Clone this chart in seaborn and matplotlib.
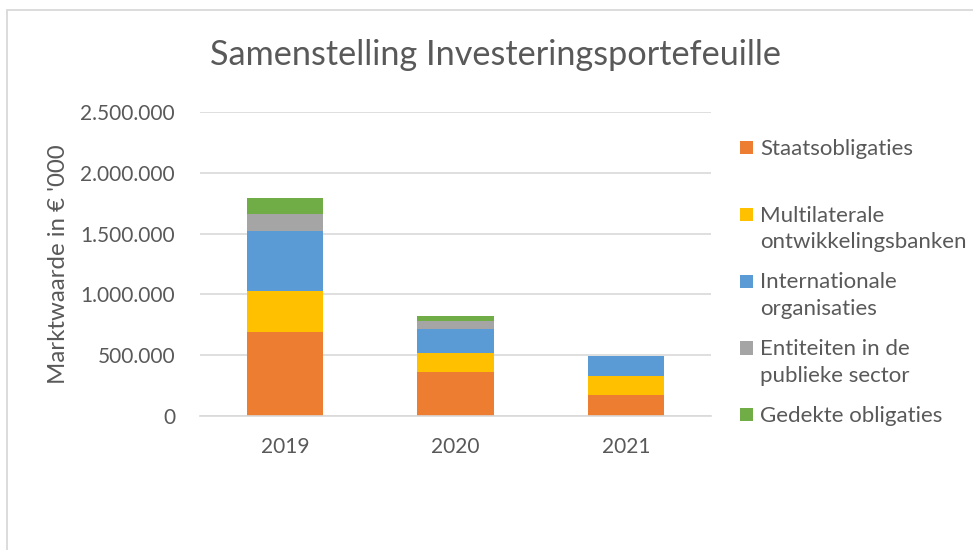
import numpy as np
import pandas as pd
import seaborn as sns
import matplotlib
matplotlib.use("Agg")
import matplotlib.pyplot as plt
from matplotlib.patches import Rectangle, Patch
from matplotlib.legend_handler import HandlerPatch
from matplotlib.ticker import FuncFormatter, MultipleLocator

# ---- data (values in € '000) ----
years = ["2019", "2020", "2021"]
staatsobligaties = [691000, 363000, 178000]
multilaterale = [334000, 159000, 155000]
internationale = [497000, 191000, 159000]
entiteiten = [136000, 71000, 0]
gedekte = [134000, 41000, 0]

series_labels = [
    "Staatsobligaties",
    "Multilaterale\nontwikkelingsbanken",
    "Internationale\norganisaties",
    "Entiteiten in de\npublieke sector",
    "Gedekte obligaties",
]
series_values = [staatsobligaties, multilaterale, internationale, entiteiten, gedekte]
series_colors = ["#ED7D31", "#FFC000", "#5B9BD5", "#A5A5A5", "#70AD47"]
title = "Samenstelling Investeringsportefeuille"
ylabel = "Marktwaarde in € '000"

TEXT = "#595959"
GRID = "#D9D9D9"

sns.set_theme(style="white")
plt.rcParams["font.family"] = ["Lato", "DejaVu Sans"]

W, H = 973, 550
fig = plt.figure(figsize=(W / 100, H / 100), dpi=100)
ax = fig.add_axes([200 / W, 1 - 416.3 / H, 511 / W, 304.6 / H])

# cumulative stacks, drawn top-down so lower segments overlay
cum = np.cumsum(np.array(series_values), axis=0)
for i in range(len(series_values) - 1, -1, -1):
    df = pd.DataFrame({"year": years, "value": cum[i]})
    sns.barplot(data=df, x="year", y="value", color=series_colors[i],
                saturation=1, width=0.45, linewidth=0, errorbar=None, ax=ax)

ax.set_xlim(-0.5, 2.5)
ax.set_ylim(0, 2500000)
ax.yaxis.set_major_locator(MultipleLocator(500000))
ax.yaxis.set_major_formatter(FuncFormatter(lambda v, p: f"{int(round(v)):,}".replace(",", ".")))
ax.grid(axis="y", color=GRID, linewidth=1.2)
ax.set_axisbelow(True)
for s in ["top", "right", "left"]:
    ax.spines[s].set_visible(False)
ax.spines["bottom"].set_color(GRID)
ax.spines["bottom"].set_linewidth(1.2)
ax.tick_params(axis="y", length=0, pad=18, labelsize=15, labelcolor=TEXT)
ax.tick_params(axis="x", length=0, pad=15, labelsize=15, labelcolor=TEXT)
ax.set_xlabel("")
ax.set_ylabel(ylabel, fontsize=17.3, color=TEXT)
ax.yaxis.label.set_va("center")
ax.yaxis.set_label_coords((58 - 200) / 511, 0.5)

fig.text(495 / W, 1 - 65 / H, title, ha="center", va="baseline",
         fontsize=24.7, color=TEXT)


class FirstLineHandler(HandlerPatch):
    def __init__(self, size, shift):
        super().__init__()
        self.size = size
        self.shift = shift

    def create_artists(self, legend, orig_handle, xdescent, ydescent,
                       width, height, fontsize, trans):
        s = self.size
        y0 = -ydescent + height / 2 - s / 2 + self.shift
        r = Rectangle((-xdescent, y0), s, s, facecolor=orig_handle.get_facecolor(),
                      edgecolor="none", transform=trans)
        return [r]


handles = [Patch(facecolor=c) for c in series_colors]
labels = [l if "\n" in l else l + "\n" for l in series_labels]
fs = 16.0
sq = 9.5
leg = fig.legend(handles, labels, loc="upper left",
                 bbox_to_anchor=(740 / W, 1 - 139 / H), frameon=False,
                 fontsize=fs, labelcolor=TEXT, handlelength=sq / fs,
                 handletextpad=0.3, labelspacing=0.9, borderpad=0,
                 borderaxespad=0,
                 handler_map={Patch: FirstLineHandler(sq, 10.6)})
for t in leg.get_texts():
    t.set_linespacing(1.42)

# chart-area border (light gray, top and left visible)
fig.add_artist(Rectangle((7 / W, -0.1), 2.0, 1 - 10 / H + 0.1,
                         transform=fig.transFigure, fill=False,
                         edgecolor=GRID, linewidth=1.3))

fig.savefig("out.png", dpi=100)
